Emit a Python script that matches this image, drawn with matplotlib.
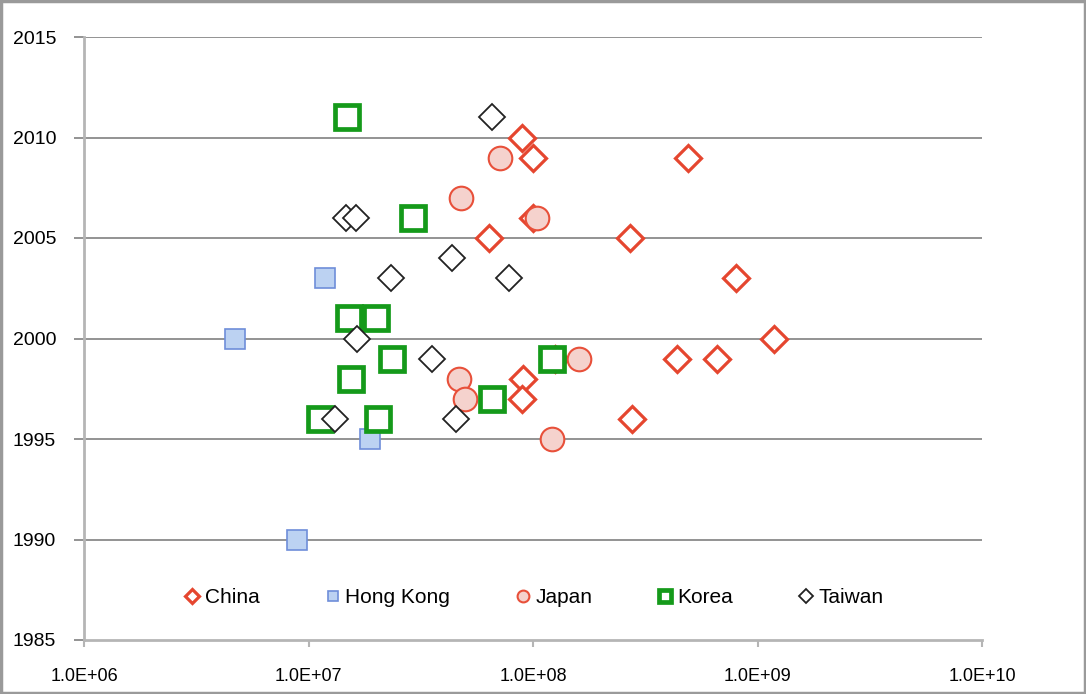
import matplotlib.pyplot as plt
from matplotlib.patches import Rectangle
from matplotlib.ticker import FixedLocator, FuncFormatter

plt.rcParams["font.family"] = ["Liberation Sans", "DejaVu Sans"]

# =========================
# DATA
# =========================
china_x = [8.9e7, 1.0e8, 4.9e8, 1.0e8, 6.4e7, 2.7e8, 8.0e8, 1.19e9,
           4.4e8, 6.6e8, 1.25e8, 9.0e7, 8.9e7, 2.75e8]
china_y = [2010, 2009, 2009, 2006, 2005, 2005, 2003, 2000,
           1999, 1999, 1999, 1998, 1997, 1996]

hk_x = [1.19e7, 4.7e6, 1.87e7, 8.9e6]
hk_y = [2003, 2000, 1995, 1990]

japan_x = [7.1e7, 4.8e7, 1.04e8, 1.6e8, 4.7e7, 5.0e7, 1.21e8]
japan_y = [2009, 2007, 2006, 1999, 1998, 1997, 1995]

korea_x = [1.49e7, 2.93e7, 1.52e7, 1.99e7, 2.36e7, 1.54e7, 6.6e7,
           1.12e7, 2.03e7, 1.21e8]
korea_y = [2011, 2006, 2001, 2001, 1999, 1998, 1997, 1996, 1996, 1999]

taiwan_x = [6.6e7, 1.47e7, 1.63e7, 4.37e7, 2.34e7, 7.8e7, 1.65e7,
            3.55e7, 1.31e7, 4.55e7]
taiwan_y = [2011, 2006, 2006, 2004, 2003, 2003, 2000, 1999, 1996, 1996]

x_ticks = [1e6, 1e7, 1e8, 1e9, 1e10]
y_ticks = [1985, 1990, 1995, 2000, 2005, 2010, 2015]

# =========================
# FIGURE
# =========================
fig = plt.figure(figsize=(10.86, 6.94), dpi=100)
ax = fig.add_axes([84 / 1086, 54 / 694, 898 / 1086, 603 / 694])

ax.set_xscale("log")
ax.set_xlim(1e6, 1e10)
ax.set_ylim(1985, 2015)

# horizontal gridlines
for y in y_ticks[1:]:
    ax.axhline(y, color="#8a8a8a", lw=1.3, zorder=0)

ax.plot(china_x, china_y, ls="none", marker="D", ms=13.5, mfc="white",
        mec="#e5462f", mew=2.3, label="China", zorder=3)
ax.plot(hk_x, hk_y, ls="none", marker="s", ms=15, mfc="#bcd2f2",
        mec="#6e8ed9", mew=1.2, label="Hong Kong", zorder=3)
ax.plot(japan_x, japan_y, ls="none", marker="o", ms=17, mfc="#f5d2cd",
        mec="#e8503a", mew=1.5, label="Japan", zorder=3)
ax.plot(korea_x, korea_y, ls="none", marker="s", ms=17.5, mfc="white",
        mec="#159a1a", mew=3.4, label="Korea", zorder=4)
ax.plot(taiwan_x, taiwan_y, ls="none", marker="D", ms=13.5, mfc="white",
        mec="#222222", mew=1.3, label="Taiwan", zorder=5)

# axes look
for s in ["top", "right"]:
    ax.spines[s].set_visible(False)
for s in ["left", "bottom"]:
    ax.spines[s].set_color("#b5b5b5")
    ax.spines[s].set_linewidth(2)

ax.xaxis.set_major_locator(FixedLocator(x_ticks))
ax.xaxis.set_minor_locator(FixedLocator([]))
ax.xaxis.set_major_formatter(FuncFormatter(lambda v, p: "%.1E" % v))
ax.set_yticks(y_ticks)

ax.tick_params(axis="y", length=7, width=1.3, color="#8a8a8a", pad=13,
               labelsize=14)
ax.tick_params(axis="x", length=5, width=1.5, color="#b5b5b5", pad=15,
               labelsize=13)

leg = ax.legend(loc="center", bbox_to_anchor=(0.5, 0.07), ncol=5,
                frameon=False, markerscale=0.5, handletextpad=0.1,
                columnspacing=3.0, handlelength=1.0, fontsize=15)

# grey frame round the picture
fig.patches.append(Rectangle((0.001, 0.001), 0.998, 0.997,
                             transform=fig.transFigure, fill=False,
                             edgecolor="#9a9a9a", lw=2.5))

fig.savefig("out.png", dpi=100)
